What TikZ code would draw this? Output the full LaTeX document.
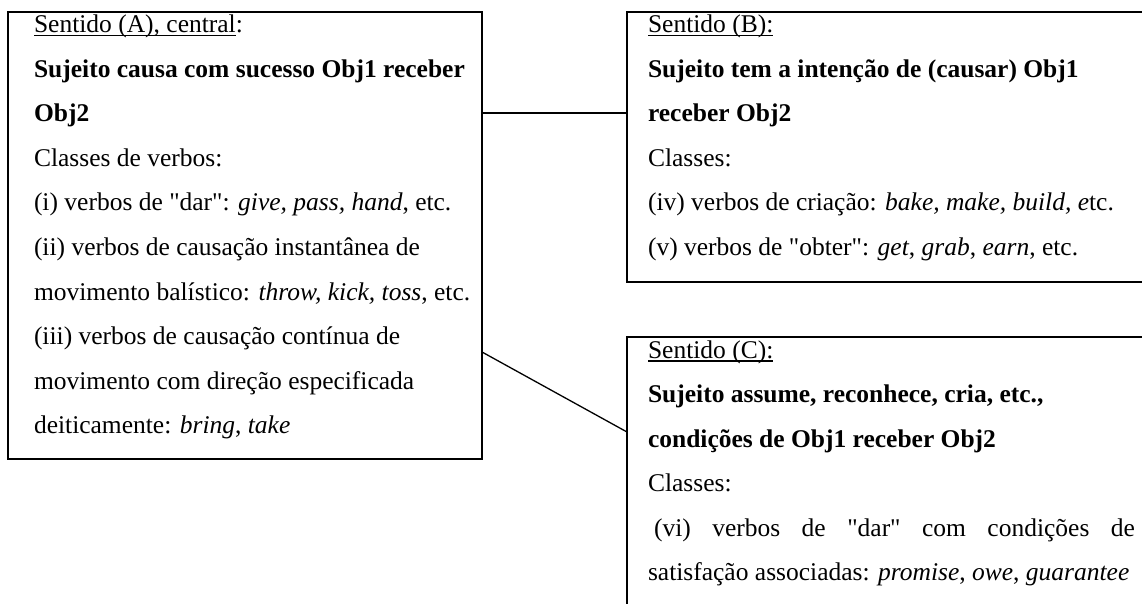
\documentclass[tikz,border=0pt]{standalone}
\usepackage{fontspec}
\setmainfont{Liberation Serif}[Ligatures=TeXOff]
\newcommand\ulx[1]{\setbox0\hbox{#1}\rlap{\rule[-3.5pt]{\wd0}{1.5pt}}\box0}
\begin{document}
\begin{tikzpicture}[x=1pt,y=-1pt,
  frame/.style={draw,line width=1.7pt,inner sep=0pt,outer sep=0pt,anchor=north west},
  conn/.style={draw,line width=1.3pt},
  txt/.style={anchor=base west,inner sep=0pt,outer sep=0pt,font=\fontsize{25.5}{30}\selectfont}]
\useasboundingbox (0,0) rectangle (1142,604);
\clip (0,0) rectangle (1142,604);
% boxes
\node[frame,minimum width=474pt,minimum height=447pt] (A) at (8,12) {};
\node[frame,minimum width=540pt,minimum height=270pt] (B) at (627,12) {};
\node[frame,minimum width=540pt,minimum height=300pt] (C) at (627,337) {};
% box A text
\node[txt] (a1) at (34,33) {\ulx{Sentido (A), central}:};
\node[txt] (a2) at (34,77.5) {\textbf{Sujeito causa com sucesso Obj1 receber}};
\node[txt] (a3) at (34,122) {\textbf{Obj2}};
\node[txt] (a4) at (34,166.5) {Classes de verbos:};
\node[txt] (a5) at (34,211) {(i) verbos de "dar": \textit{give, pass, hand}, etc.};
\node[txt] (a6) at (34,255.5) {(ii) verbos de causação instantânea de};
\node[txt] (a7) at (34,300) {movimento balístico: \textit{throw, kick, toss}, etc.};
\node[txt] (a8) at (34,344.5) {(iii) verbos de causação contínua de};
\node[txt] (a9) at (34,389) {movimento com direção especificada};
\node[txt] (a10) at (34,433.5) {deiticamente: \textit{bring}, \textit{take}};
% box B text
\node[txt] (b1) at (648,33) {\ulx{Sentido (B):}};
\node[txt] (b2) at (648,77.5) {\textbf{Sujeito tem a intenção de (causar) Obj1}};
\node[txt] (b3) at (648,122) {\textbf{receber Obj2}};
\node[txt] (b4) at (648,166.5) {Classes:};
\node[txt] (b5) at (648,211) {(iv) verbos de criação: \textit{bake, make, build, e}tc.};
\node[txt] (b6) at (648,255.5) {(v) verbos de "obter": \textit{get}, \textit{grab}, \textit{earn}, etc.};
% box C text
\node[txt] (c1) at (648,358) {\ulx{Sentido (C):}};
\node[txt] (c2) at (648,402.5) {\textbf{Sujeito assume, reconhece, cria, etc.,}};
\node[txt] (c3) at (648,447) {\textbf{condições de Obj1 receber Obj2}};
\node[txt] (c4) at (648,491.5) {Classes:};
\node[txt] (c5) at (648,536) {\makebox[487pt][s]{\hspace{6pt}(vi) verbos de "dar" com condições de}};
\node[txt] (c6) at (648,580.5) {satisfação associadas: \textit{promise}, \textit{owe}, \textit{guarantee}};
% connectors
\coordinate (y1) at (0,113);
\coordinate (y2) at (0,352);
\coordinate (y3) at (0,432);
\draw[conn] (A.east |- y1) -- (B.west |- y1);
\draw[conn] (A.east |- y2) -- (C.west |- y3);
\end{tikzpicture}
\end{document}
